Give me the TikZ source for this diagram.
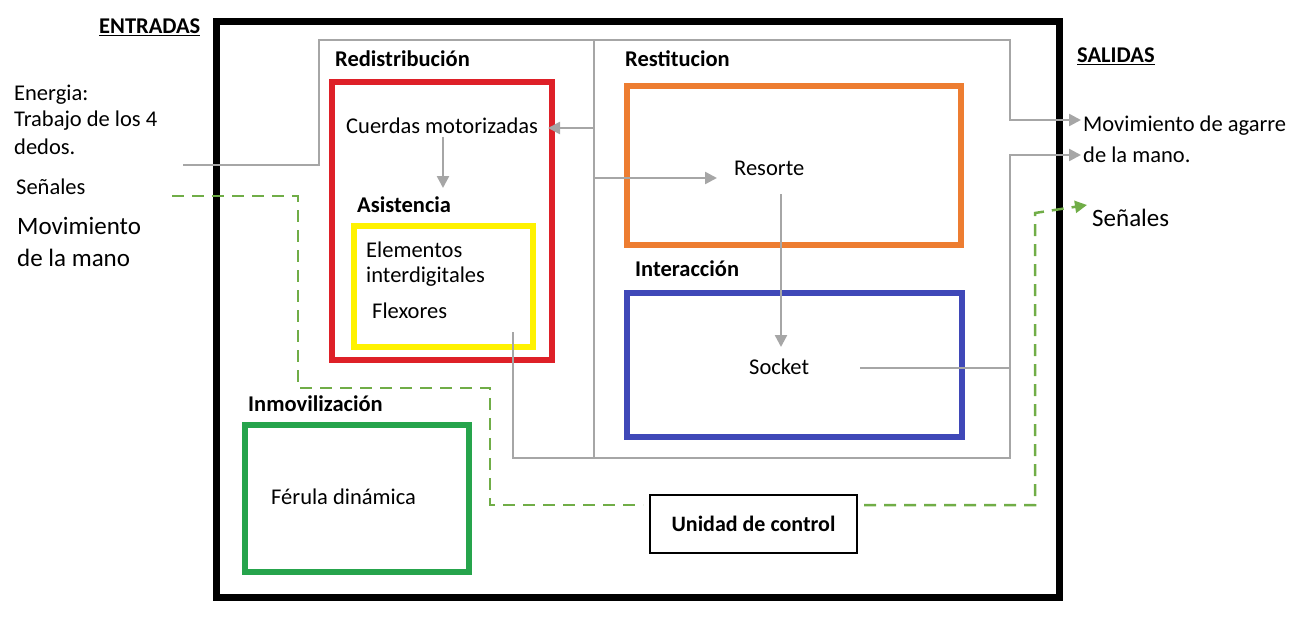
\documentclass[tikz,border=0pt]{standalone}
\usepackage{fontspec}
\setmainfont{Carlito}
\usetikzlibrary{arrows.meta}
\definecolor{lgray}{RGB}{166,166,166}
\definecolor{dgreen}{RGB}{112,173,71}
\definecolor{bred}{RGB}{222,32,40}
\definecolor{bor}{RGB}{237,125,49}
\definecolor{byel}{RGB}{255,242,0}
\definecolor{bblue}{RGB}{63,72,184}
\definecolor{bgreen}{RGB}{38,164,76}
\begin{document}
\begin{tikzpicture}[x=1pt,y=-1pt,
  txt/.style={anchor=west,inner sep=0pt,font=\fontsize{22.5}{26}\selectfont},
  ttl/.style={anchor=west,inner sep=0pt,font=\fontsize{22.5}{26}\selectfont\bfseries},
  big/.style={anchor=west,inner sep=0pt,align=left,font=\fontsize{25}{32}\selectfont},
  flow/.style={draw=lgray,line width=2.5pt},
  arr/.style={flow,-{Triangle[length=12pt,width=12pt]}},
  sig/.style={draw=dgreen,line width=2.5pt,dash pattern=on 12pt off 8pt},
  frame/.style={line width=6pt}]
\useasboundingbox (0,0) rectangle (1312,623);
% outer frame
\draw[line width=7pt] (216,22) rectangle (1059,597);
% coloured boxes
\draw[frame,bred] (332,82) rectangle (552,360);
\draw[frame,byel] (354,226) rectangle (533,347);
\draw[frame,bor] (627,86) rectangle (961,245);
\draw[frame,bblue] (627,293) rectangle (962,437);
\draw[frame,bgreen] (245,425) rectangle (469,572);
% headings
\node[ttl] (ent) at (99,27) {\underline{ENTRADAS}};
\node[ttl] (sal) at (1077,56) {\underline{SALIDAS}};
\node[ttl] (redis) at (335,59) {Redistribución};
\node[ttl] (asis) at (357,205) {Asistencia};
\node[ttl] (rest) at (625,59) {Restitucion};
\node[ttl] (inter) at (635,269) {Interacción};
\node[ttl] (inmov) at (248,404) {Inmovilización};
% texts
\node[txt] (energia) at (14,95) {Energia:};
\node[txt] (trab) at (14,121) {Trabajo de los 4};
\node[txt] (dedos) at (14,147) {dedos.};
\node[txt] (senin) at (16,187) {Señales};
\node[big] (movin) at (17,242) {Movimiento\\de la mano};
\node[txt] (cuerdas) at (346,126) {Cuerdas motorizadas};
\node[txt] (elem) at (366,250) {Elementos};
\node[txt] (interd) at (366,277) {interdigitales};
\node[txt] (flex) at (372,311) {Flexores};
\node[txt] (resorte) at (734,168) {Resorte};
\node[txt] (socket) at (749,367) {Socket};
\node[txt] (ferula) at (271,497) {Férula dinámica};
\node[txt] (mov1) at (1083,126) {Movimiento de agarre};
\node[txt] (mov2) at (1083,155) {de la mano.};
\node[big] (senout) at (1092,218) {Señales};
\node[draw,line width=1.5pt,minimum width=207pt,minimum height=58pt,inner sep=0pt,
      font=\fontsize{22}{26}\selectfont\bfseries] (ctrl) at (753.5,524) {Unidad de control};
% connector coordinates
\coordinate (a0) at (183,165);
\coordinate (a1) at (319,165);
\coordinate (a2) at (319,40);
\coordinate (a3) at (1010,40);
\coordinate (a4) at (1010,120);
\coordinate (o1) at (1081,120);
\coordinate (v0) at (594,40);
\coordinate (v1) at (594,458);
\coordinate (vb1) at (594,128);
\coordinate (cu) at (548,128);
\coordinate (vb2) at (594,178);
\coordinate (re) at (717,178);
\coordinate (cd0) at (443,137);
\coordinate (cd1) at (443,188);
\coordinate (rs0) at (781,194);
\coordinate (rs1) at (781,347);
\coordinate (sk0) at (860,368);
\coordinate (sk1) at (1010,368);
\coordinate (f0) at (513,332);
\coordinate (f1) at (513,458);
\coordinate (f2) at (1010,458);
\coordinate (f3) at (1010,155);
\coordinate (o2) at (1081,155);
\coordinate (g0) at (172,196);
\coordinate (g1) at (298,196);
\coordinate (g2) at (298,388);
\coordinate (g3) at (490,388);
\coordinate (g4) at (490,505);
\coordinate (g5) at (643,505);
\coordinate (h0) at (864,505);
\coordinate (h1) at (1035,505);
\coordinate (h2) at (1035,213);
\coordinate (h3) at (1087,205);
% gray flows
\draw[arr] (a0) -- (a1) -- (a2) -- (a3) -- (a4) -- (o1);
\draw[flow] (v0) -- (v1);
\draw[arr] (vb1) -- (cu);
\draw[arr] (vb2) -- (re);
\draw[arr] (cd0) -- (cd1);
\draw[arr] (rs0) -- (rs1);
\draw[flow] (sk0) -- (sk1);
\draw[arr] (f0) -- (f1) -- (f2) -- (f3) -- (o2);
% signals
\draw[sig] (g0) -- (g1) -- (g2) -- (g3) -- (g4) -- (g5);
\draw[sig,-{Triangle[length=12pt,width=12pt]}] (h0) -- (h1) -- (h2) -- (h3);
\end{tikzpicture}
\end{document}
